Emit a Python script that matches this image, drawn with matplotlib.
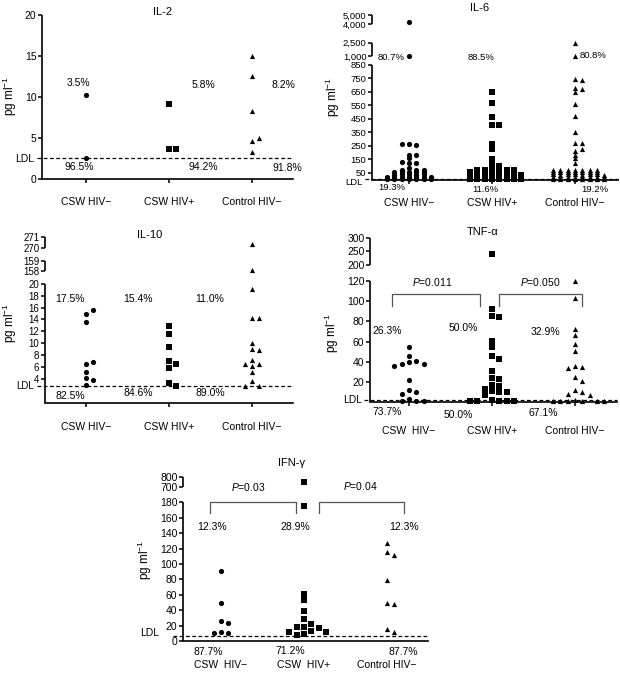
import numpy as np
import matplotlib
matplotlib.use('Agg')
import matplotlib.pyplot as plt

plt.rcParams['font.family'] = ['Liberation Sans', 'DejaVu Sans']
plt.rcParams['mathtext.fontset'] = 'custom'
plt.rcParams['mathtext.rm'] = 'Liberation Sans'
plt.rcParams['mathtext.it'] = 'Liberation Sans:italic'

W, H = 620, 673

groups = ['CSW HIV−', 'CSW HIV+', 'Control HIV−']
markers = ['o', 's', '^']

# ---- data (pg/ml), one list per group ----
il2_csw_neg = [10.3, 2.6]
il2_csw_pos = [9.1, 3.6, 3.6]
il2_ctrl_neg = [15.0, 12.5, 8.3, 4.6, 5.0, 3.3]

il6_csw_neg = [4200, 1000, 265, 258, 262, 186, 182, 127, 125, 130, 158, 85,
               5, 4, 6, 5, 4, 6, 5,
               22, 21, 23, 22, 21, 23, 22,
               39, 38, 40, 39, 38,
               56, 55, 57, 56, 55,
               73, 72, 74]
il6_csw_pos = [650, 565, 468, 407, 405, 265, 228, 156,
               5, 4, 6, 5, 4, 6, 5, 4,
               22, 21, 23, 22, 21, 23, 22, 21,
               39, 38, 40, 39, 38, 40, 39, 38,
               56, 55, 57, 56, 55, 57, 56,
               73, 72, 74, 73, 72, 74,
               94, 104, 112]
il6_ctrl_neg = [2500, 1000, 748, 741, 680, 672, 650, 563, 473, 352, 275, 272,
                216, 228, 181, 164, 127,
                5, 4, 6, 5, 4, 6, 5, 4,
                22, 21, 23, 22, 21, 23, 22, 21,
                39, 38, 40, 39, 38, 40, 39, 38,
                56, 55, 57, 56, 55, 57, 56,
                73, 72, 74, 73, 72, 74, 73]

il10_csw_neg = [15.0, 15.6, 13.5, 6.5, 6.9, 5.1, 4.1, 3.9, 3.0]
il10_csw_pos = [12.9, 11.5, 9.4, 7.1, 6.5, 5.9, 3.3, 2.8]
il10_ctrl_neg = [270.4, 158.1, 19.2, 14.2, 14.2, 10.1, 9.1, 8.9, 7.2, 6.5, 6.5,
                 6.2, 5.1, 3.7, 2.9, 2.9]

tnf_csw_neg = [55, 46, 41, 40, 38, 38, 36, 22, 12, 10, 8.5, 3.5, 2, 2, 2]
tnf_csw_pos = [240, 92, 85, 84, 61, 55, 46, 43, 31, 24, 23, 17, 16, 13, 11,
               10, 10, 7, 3, 2, 2, 2, 2, 2]
tnf_ctrl_neg = [120, 103, 73, 67, 58, 51, 36, 35, 34, 25, 21, 12, 10, 8, 7,
                3, 2, 2, 2, 2, 2, 2]

ifn_csw_neg = [91, 50, 26, 23, 12, 10, 10]
ifn_csw_pos = [750, 175, 61, 53, 39, 28, 22, 18.6, 18, 17, 13, 12, 12, 8.7, 8]
ifn_ctrl_neg = [127, 115, 112, 79, 50, 48, 15, 12]

# percentages above / below the detection limit
il2_pct_above = ['3.5%', '5.8%', '8.2%']
il2_pct_below = ['96.5%', '94.2%', '91.8%']
il6_pct_above = ['80.7%', '88.5%', '80.8%']
il6_pct_below = ['19.3%', '11.6%', '19.2%']
il10_pct_above = ['17.5%', '15.4%', '11.0%']
il10_pct_below = ['82.5%', '84.6%', '89.0%']
tnf_pct_above = ['26.3%', '50.0%', '32.9%']
tnf_pct_below = ['73.7%', '50.0%', '67.1%']
ifn_pct_above = ['12.3%', '28.9%', '12.3%']
ifn_pct_below = ['87.7%', '71.2%', '87.7%']

tnf_pvalues = ['$P$=0.011', '$P$=0.050']
ifn_pvalues = ['$P$=0.03', '$P$=0.04']

# ---- layout (image pixels) ----
panels = [
    dict(title='IL-2', data=[il2_csw_neg, il2_csw_pos, il2_ctrl_neg],
         box=(42, 15, 293, 179), cat0=86, ldl=2.5, min_dy=5.5,
         ldl_ext=5, ldl_lab=8, ldl_dy=0,
         ymap=[(0, 179), (20, 15)], spine=[(0, 20)],
         yticks=[0, 5, 10, 15, 20], ylabels=['0', '5', '10', '15', '20'],
         ytick_fs=7.5,
         xlabels=groups, xpad=10, xtick=True,
         title_xy=(163, 12), ylab_xy=(10, 96),
         above=il2_pct_above, above_xy=[(78, 83), (203, 85), (283, 85)],
         below=il2_pct_below, below_xy=[(79, 167), (203, 167), (287, 168)], pct_fs=7.5),
    dict(title='IL-6', data=[il6_csw_neg, il6_csw_pos, il6_ctrl_neg],
         box=(372, 15, 618, 180), cat0=409, ldl=3, min_dy=1.9,
         ldl_ext=7, ldl_lab=9, ldl_dy=3.5,
         ymap=[(0, 179.7), (850, 65), (1000, 56), (2500, 42.7), (4000, 24.3), (5000, 15)],
         spine=[(None, 850), (1000, 2500), (4000, 5000)],
         yticks=[50, 150, 250, 350, 450, 550, 650, 750, 850, 1000, 2500, 4000, 5000],
         ylabels=['50', '150', '250', '350', '450', '550', '650', '750', '850',
                  '1,000', '2,500', '4,000', '5,000'],
         ytick_fs=6.8,
         xlabels=groups, xpad=10, xtick=True,
         title_xy=(480, 8), ylab_xy=(333, 97),
         above=il6_pct_above, above_xy=[(391, 57), (481, 58), (593, 56)],
         below=il6_pct_below, below_xy=[(392, 188), (485, 189), (595, 189)], pct_fs=6.8),
    dict(title='IL-10', data=[il10_csw_neg, il10_csw_pos, il10_ctrl_neg],
         box=(45, 237.3, 293, 402.8), cat0=86, ldl=2.8, min_dy=5.5,
         ldl_ext=8, ldl_lab=11, ldl_dy=0,
         ymap=[(0, 402.8), (20, 283.8), (158, 271), (159, 261), (270, 248.3), (271, 237.3)],
         spine=[(0, 20), (158, 159), (270, 271)],
         yticks=[4, 6, 8, 10, 12, 14, 16, 18, 20, 158, 159, 270, 271],
         ylabels=['4', '6', '8', '10', '12', '14', '16', '18', '20',
                  '158', '159', '270', '271'],
         ytick_fs=7,
         xlabels=groups, xpad=11, xtick=True,
         title_xy=(150, 235), ylab_xy=(10, 323),
         above=il10_pct_above, above_xy=[(70, 299), (138, 299), (210, 299)],
         below=il10_pct_below, below_xy=[(70, 396), (138, 393), (210, 393)], pct_fs=7.5),
    dict(title='TNF-α', data=[tnf_csw_neg, tnf_csw_pos, tnf_ctrl_neg],
         box=(370, 237.7, 617, 402), cat0=409, ldl=3, min_dy=5.5,
         ldl_ext=6, ldl_lab=8, ldl_dy=0,
         ymap=[(0, 402.6), (120, 280.8), (200, 265), (300, 237.7)],
         spine=[(None, 120), (200, 300)],
         yticks=[20, 40, 60, 80, 100, 120, 200, 250, 300],
         ylabels=['20', '40', '60', '80', '100', '120', '200', '250', '300'],
         ytick_fs=7.5,
         xlabels=['CSW  HIV−', 'CSW HIV+', 'Control HIV−'], xpad=14, xtick=True,
         title_xy=(483, 232), ylab_xy=(332, 333),
         above=tnf_pct_above, above_xy=[(387, 331), (463, 328), (545, 332)],
         below=tnf_pct_below, below_xy=[(387, 412), (458, 415), (543, 413)], pct_fs=7.5,
         pvals=tnf_pvalues, p_xy=[(432, 282), (540, 282)],
         brackets=[(-0.2, 0.86, 107, 95), (1.08, 2.08, 107, 95)]),
    dict(title='IFN-γ', data=[ifn_csw_neg, ifn_csw_pos, ifn_ctrl_neg],
         box=(183, 476.7, 428, 641), cat0=221, ldl=6, min_dy=5.5,
         ldl_ext=10, ldl_lab=24, ldl_dy=-3,
         ymap=[(0, 641), (180, 502.4), (700, 487.3), (800, 476.7)],
         spine=[(0, 180), (700, 800)],
         yticks=[0, 20, 40, 60, 80, 100, 120, 140, 160, 180, 700, 800],
         ylabels=['0', '20', '40', '60', '80', '100', '120', '140', '160', '180',
                  '700', '800'],
         ytick_fs=7.5,
         xlabels=['CSW  HIV−', 'CSW  HIV+', 'Control HIV−'], xpad=14, xtick=False,
         title_xy=(292, 463), ylab_xy=(145, 560),
         above=ifn_pct_above, above_xy=[(212, 527), (295, 527), (404, 527)],
         below=ifn_pct_below, below_xy=[(208, 652), (290, 651), (403, 652)], pct_fs=7.5,
         pvals=ifn_pvalues, p_xy=[(248, 487), (360, 486)],
         brackets=[(-0.13, 0.9, 180, 166), (1.18, 2.2, 181, 166)]),
]

SPACING = 83.0  # px between groups
SLOT = 7.3      # px between neighbouring dots


def interp_ext(x, xp, fp):
    x = np.asarray(x, dtype=float)
    y = np.interp(x, xp, fp)
    s0 = (fp[1] - fp[0]) / (xp[1] - xp[0])
    s1 = (fp[-1] - fp[-2]) / (xp[-1] - xp[-2])
    y = np.where(x < xp[0], fp[0] + (x - xp[0]) * s0, y)
    y = np.where(x > xp[-1], fp[-1] + (x - xp[-1]) * s1, y)
    return y


def swarm_offsets(ax, values, min_dy):
    # spread points sideways in slots, Prism-like scatter dot plot
    ypx = ax.transData.transform(np.column_stack([np.zeros(len(values)), values]))[:, 1]
    xunit = ax.transData.transform([(1, 0)])[0, 0] - ax.transData.transform([(0, 0)])[0, 0]
    cands = [0]
    for k in range(1, 12):
        cands += [k, -k]
    placed = []
    slots = []
    for y in ypx:
        for c in cands:
            if all(not (s == c and abs(py - y) < min_dy) for s, py in placed):
                break
        placed.append((c, y))
        slots.append(c)
    return np.array(slots) * SLOT / xunit


def ftext(x, y, s, **kw):
    opts = dict(ha='center', va='center')
    opts.update(kw)
    fig.text(x / W, 1 - y / H, s, **opts)


fig = plt.figure(figsize=(W / 100, H / 100), dpi=100)

for p in panels:
    l, t, r, b = p['box']
    ax = fig.add_axes([l / W, 1 - b / H, (r - l) / W, (b - t) / H])
    vals = np.array([v for v, _ in p['ymap']], float)
    pxs = np.array([-y for _, y in p['ymap']], float)
    fwd = lambda v, vals=vals, pxs=pxs: interp_ext(v, vals, pxs)
    inv = lambda q, vals=vals, pxs=pxs: interp_ext(q, pxs, vals)
    ax.set_yscale('function', functions=(fwd, inv))
    ybot, ytop = float(inv(-b)), float(inv(-t))
    ax.set_ylim(ybot, ytop)
    ax.set_xlim((l - p['cat0']) / SPACING, 2 + (r - p['cat0'] - 2 * SPACING) / SPACING)

    for i, (vals_g, m) in enumerate(zip(p['data'], markers)):
        off = swarm_offsets(ax, vals_g, p['min_dy'])
        ax.scatter(i + off, vals_g, marker=m, s=14, c='k', linewidths=0, zorder=3,
                   clip_on=False)

    # detection limit: dashed line reaching a little left of the axis
    ext = p['ldl_ext'] / (r - l)
    ax.plot([-ext, 1], [p['ldl'], p['ldl']], transform=ax.get_yaxis_transform(),
            color='k', lw=0.9, ls=(0, (3, 2)), zorder=2, clip_on=False)
    ldl_px = -float(fwd(p['ldl']))
    ftext(l - p['ldl_lab'], ldl_px + p['ldl_dy'], 'LDL', ha='right',
          fontsize=p['ytick_fs'])

    for s in ['top', 'right', 'left']:
        ax.spines[s].set_visible(False)
    ax.spines['bottom'].set_linewidth(1.2)
    for lo, hi in p['spine']:
        lo = ybot if lo is None else lo
        ax.plot([0, 0], [lo, hi], transform=ax.get_yaxis_transform(), color='k',
                lw=1.2, clip_on=False, solid_capstyle='butt')

    ax.set_yticks(p['yticks'])
    ax.set_yticklabels(p['ylabels'])
    ax.minorticks_off()
    ax.tick_params(axis='y', length=3, width=1.1, pad=1, labelsize=p['ytick_fs'])
    ax.set_xticks([0, 1, 2])
    ax.set_xticklabels(p['xlabels'])
    ax.tick_params(axis='x', length=3 if p['xtick'] else 0, width=1.1,
                   pad=p['xpad'], labelsize=7.5)

    ftext(*p['title_xy'], p['title'], fontsize=8)
    ftext(*p['ylab_xy'], 'pg ml$^{-1}$', fontsize=8.5, rotation=90)
    for s, xy in zip(p['above'], p['above_xy']):
        ftext(*xy, s, fontsize=p['pct_fs'])
    for s, xy in zip(p['below'], p['below_xy']):
        ftext(*xy, s, fontsize=p['pct_fs'])
    if 'pvals' in p:
        for s, xy in zip(p['pvals'], p['p_xy']):
            ftext(*xy, s, fontsize=7.5)
        for x0, x1, ytop_b, yleg in p['brackets']:
            ax.plot([x0, x0, x1, x1], [yleg, ytop_b, ytop_b, yleg], color='#555555',
                    lw=0.9, clip_on=False)

fig.savefig('out.png', dpi=100)
